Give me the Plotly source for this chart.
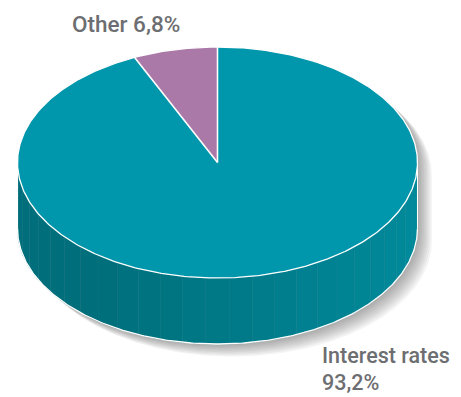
import numpy as np
import plotly.graph_objects as go

# ---- data ----
categories = ["Interest rates", "Other"]
shares = [93.2, 6.8]
slice_colors = ["#0096ab", "#ab79a8"]

# ---- geometry (pixel space of the window) ----
W, H = 461, 397
OFF = 8  # page body margin
cx, cy = 217.5, 162.5
a, b = 200.0, 115.5
depth = 66.0


def pt(theta_deg, dy=0.0):
    t = np.radians(theta_deg)
    return cx + a * np.sin(t), cy - b * np.cos(t) + dy


def arc(t0, t1, dy=0.0, n=None):
    if n is None:
        n = max(2, int(abs(t1 - t0) * 1.5) + 2)
    ts = np.linspace(t0, t1, n)
    xs, ys = pt(ts, dy)
    return list(xs), list(ys)


fig = go.Figure()

total = sum(shares)
bounds = []
acc = 0.0
for v in shares:
    start = acc / total * 360
    acc += v
    end = acc / total * 360
    bounds.append((start, end))

# ---- shadow ----
def silhouette(dx, dy):
    xs, ys = arc(-90, 90)
    xb, yb = arc(90, 270, depth)
    X = xs + xb
    Y = ys + yb
    return [x + dx for x in X], [y + dy for y in Y]

for k in range(1, 10):
    sx, sy = silhouette(k * 1.6, k * 1.4)
    fig.add_trace(go.Scatter(x=sx, y=sy, fill="toself", mode="lines",
                             line=dict(width=0), fillcolor="rgba(60,60,60,0.06)",
                             hoverinfo="skip", showlegend=False))

# ---- side walls ----
dark = np.array([0x00, 0x6a, 0x76])
light = np.array([0x00, 0x8a, 0x9b])
for (s, e), col in zip(bounds, slice_colors):
    lo, hi = max(s, 90), min(e, 270)
    if hi <= lo:
        continue
    edges = np.linspace(lo, hi, 28)
    for t0, t1 in zip(edges[:-1], edges[1:]):
        xt, yt = arc(t0, t1)
        xb, yb = arc(t1, t0, depth)
        xm = pt((t0 + t1) / 2)[0]
        u = (xm - (cx - a)) / (2 * a)
        f = 0.15 + 0.85 * max(u - 0.2, 0) / 0.8
        c = dark + (light - dark) * min(max(f, 0), 1)
        colr = "rgb(%d,%d,%d)" % tuple(c.astype(int))
        fig.add_trace(go.Scatter(x=xt + xb, y=yt + yb, fill="toself", mode="lines",
                                 line=dict(width=0.6, color=colr), fillcolor=colr,
                                 hoverinfo="skip", showlegend=False))

# ---- top slices ----
for (s, e), col, name in zip(bounds, slice_colors, categories):
    xs, ys = arc(s, e)
    X = [cx] + xs + [cx]
    Y = [cy] + ys + [cy]
    fig.add_trace(go.Scatter(x=X, y=Y, fill="toself", mode="lines",
                             line=dict(width=0), fillcolor=col, name=name,
                             hoverinfo="skip", showlegend=False))

# ---- white outlines ----
xs, ys = arc(0, 360)
fig.add_trace(go.Scatter(x=xs, y=ys, mode="lines", line=dict(color="white", width=1.3),
                         hoverinfo="skip", showlegend=False))
xb, yb = arc(90, 270, depth)
fig.add_trace(go.Scatter(x=xb, y=yb, mode="lines", line=dict(color="white", width=1.3),
                         hoverinfo="skip", showlegend=False))
for t in (90, 270):
    x0, y0 = pt(t)
    fig.add_trace(go.Scatter(x=[x0, x0], y=[y0, y0 + depth], mode="lines",
                             line=dict(color="white", width=1.0),
                             hoverinfo="skip", showlegend=False))
for s, e in bounds:
    x0, y0 = pt(s)
    fig.add_trace(go.Scatter(x=[cx, x0], y=[cy, y0], mode="lines",
                             line=dict(color="white", width=1.6),
                             hoverinfo="skip", showlegend=False))

# ---- labels ----
def fmt(v):
    return ("%.1f%%" % v).replace(".", ",")

font_top = dict(family="Roboto", size=22.5, color="#6d6e71", weight=500)
font_bot = dict(family="Roboto", size=21.5, color="#6d6e71", weight=500)
annotations = [
    dict(x=71, y=24, text=f"{categories[1]} {fmt(shares[1])}", xanchor="left",
         yanchor="middle", font=font_top),
    dict(x=321, y=355, text=categories[0], xanchor="left", yanchor="middle", font=font_bot),
    dict(x=321, y=382.5, text=fmt(shares[0]), xanchor="left", yanchor="middle", font=font_bot),
]
for an in annotations:
    an.update(xref="x", yref="y", showarrow=False, borderpad=0)

fig.update_layout(
    width=W - OFF, height=H - OFF, margin=dict(l=0, r=0, t=0, b=0),
    paper_bgcolor="white", plot_bgcolor="white",
    xaxis=dict(range=[OFF, W], visible=False, fixedrange=True),
    yaxis=dict(range=[H, OFF], visible=False, fixedrange=True),
    annotations=annotations,
)

fig.write_html("out.html")
